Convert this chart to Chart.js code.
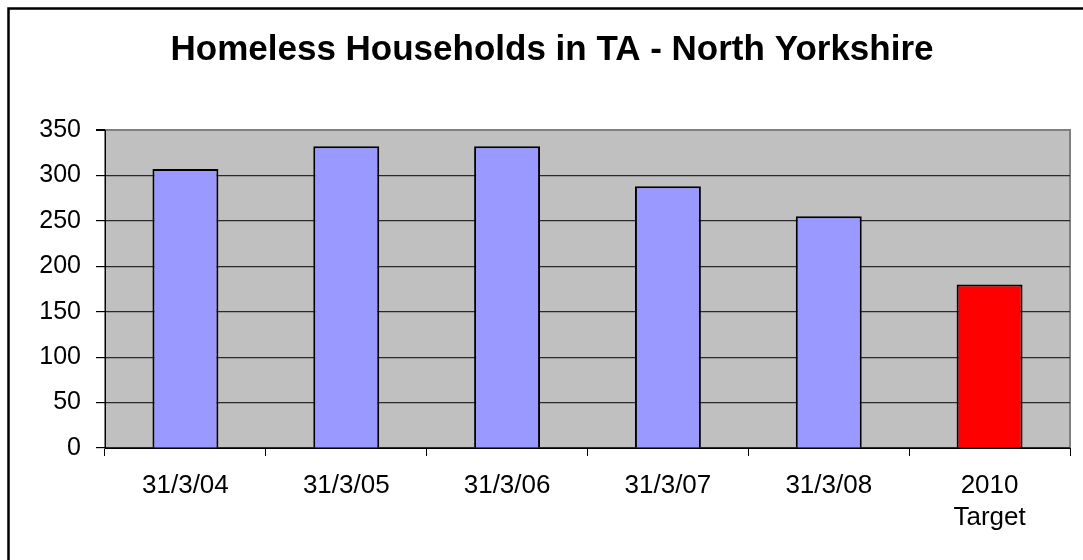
<!DOCTYPE html>
<html>
<head>
<meta charset="utf-8">
<script src="https://cdn.jsdelivr.net/npm/chart.js@4/dist/chart.umd.min.js"></script>
<style>
  html, body { margin: 0; padding: 0; background: #ffffff; }
  #wrap { width: 1083px; height: 560px; position: relative; }
</style>
</head>
<body>
<div id="wrap"><canvas id="c" width="1083" height="560"></canvas></div>
<script>
const chartTitle = 'Homeless Households in TA - North Yorkshire';
const categories = ['31/3/04', '31/3/05', '31/3/06', '31/3/07', '31/3/08', ['2010', 'Target']];
const households = [307, 332, 332, 288, 255, 180];
const barColors = ['#9999FF', '#9999FF', '#9999FF', '#9999FF', '#9999FF', '#FF0000'];
const yTicks = [0, 50, 100, 150, 200, 250, 300, 350];

const FONT = '"Liberation Sans", Arial, sans-serif';

const decorPlugin = {
  id: 'decor',
  beforeDraw(chart) {
    const { ctx, chartArea: a } = chart;
    ctx.save();
    ctx.fillStyle = '#ffffff';
    ctx.fillRect(0, 0, chart.width, chart.height);
    ctx.fillStyle = '#C0C0C0';
    ctx.fillRect(a.left, a.top, a.right - a.left, a.bottom - a.top);
    ctx.strokeStyle = '#808080';
    ctx.lineWidth = 2;
    ctx.strokeRect(a.left, a.top, a.right - a.left, a.bottom - a.top);
    ctx.restore();
  },
  afterDraw(chart) {
    const { ctx } = chart;
    ctx.save();
    // outer frame
    ctx.strokeStyle = '#000000';
    ctx.lineWidth = 2.5;
    ctx.strokeRect(8.5, 8.5, 1300, 1300);
    // title
    ctx.fillStyle = '#000000';
    ctx.font = 'bold 35px ' + FONT;
    ctx.textAlign = 'center';
    ctx.textBaseline = 'middle';
    ctx.fillText(chartTitle, 552, 50);
    ctx.restore();
  }
};

new Chart(document.getElementById('c'), {
  type: 'bar',
  data: {
    labels: categories,
    datasets: [{
      data: households,
      backgroundColor: barColors,
      borderColor: '#000000',
      borderWidth: 2,
      barPercentage: 0.41,
      categoryPercentage: 1.0
    }]
  },
  options: {
    responsive: false,
    animation: false,
    layout: { padding: { top: 130, left: 0, right: 13, bottom: 0 } },
    plugins: { legend: { display: false }, title: { display: false }, tooltip: { enabled: false } },
    scales: {
      x: {
        offset: true,
        grid: {
          display: true,
          drawOnChartArea: false,
          drawTicks: true,
          tickLength: 8,
          tickColor: '#000000',
          color: '#000000',
          lineWidth: 1
        },
        border: { display: true, color: '#000000', width: 1 },
        ticks: {
          color: '#000000',
          font: { family: FONT, size: 26, lineHeight: 1.26 },
          padding: 13,
          maxRotation: 0,
          autoSkip: false
        },
        afterFit(scale) { scale.height = 112; }
      },
      y: {
        min: 0,
        max: 350,
        afterBuildTicks(scale) { scale.ticks = yTicks.map(v => ({ value: v })); },
        grid: {
          drawOnChartArea: true,
          drawTicks: true,
          tickLength: 9,
          tickColor: '#000000',
          color: (c) => (c.tick && c.tick.value === 350 ? '#808080' : '#2a2a2a'),
          lineWidth: (c) => (c.tick && c.tick.value === 350 ? 2 : 1.2)
        },
        border: { display: true, color: '#000000', width: 1 },
        ticks: {
          color: '#000000',
          font: { family: FONT, size: 25 },
          padding: 15
        },
        afterFit(scale) { scale.width = 105; }
      }
    }
  },
  plugins: [decorPlugin]
});
</script>
</body>
</html>
